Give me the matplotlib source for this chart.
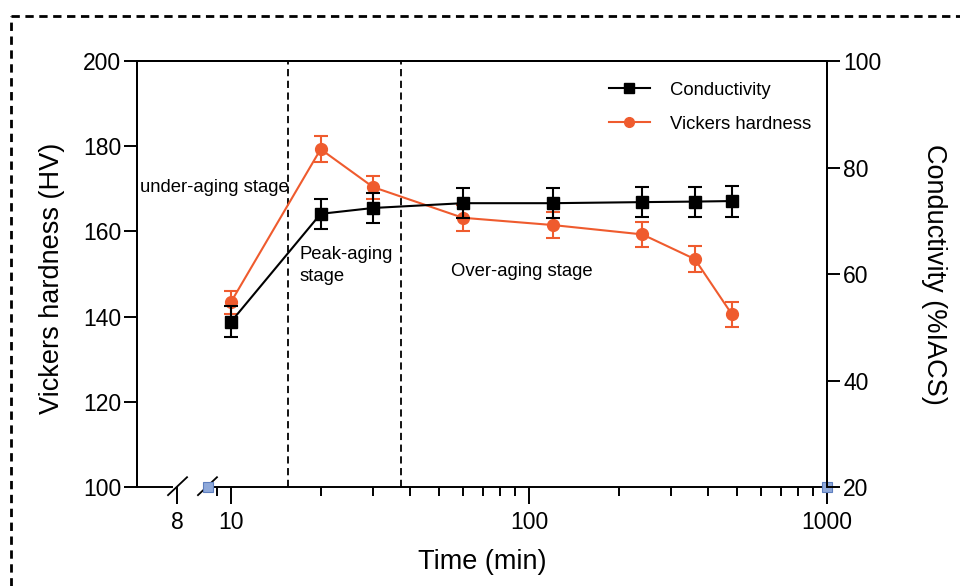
import matplotlib.pyplot as plt
import numpy as np
from matplotlib.lines import Line2D

plt.rcParams['font.family'] = ['Liberation Sans', 'DejaVu Sans']

# aging time (min)
time_min = [10, 20, 30, 60, 120, 240, 360, 480]
hardness = [143.4, 179.3, 170.4, 163.2, 161.5, 159.3, 153.5, 140.5]
hardness_err = [2.7, 3.0, 2.7, 3.0, 3.0, 3.0, 3.0, 3.0]
conductivity = [51.0, 71.3, 72.4, 73.3, 73.3, 73.5, 73.6, 73.7]
conductivity_err = [2.9, 2.8, 2.8, 2.8, 2.8, 2.8, 2.8, 2.9]

# stage boundaries (min)
stage_bounds = [15.6, 37.2]

# stray grey-blue points sitting on the x axis
stray_x = [8.4, 1000]
stray_y = [100, 100]

orange = '#EF5B2E'

fig = plt.figure(figsize=(9.6, 5.86), dpi=100)
ax = fig.add_axes([0.1427, 0.1689, 0.7188, 0.7270])
ax2 = ax.twinx()

ax.set_xscale('log')
ax.set_xlim(4.84, 1000)
ax.set_ylim(100, 200)
ax2.set_ylim(20, 100)

for xb in stage_bounds:
    ax.axvline(xb, color='black', lw=1.3, ls=(0, (4, 2.5)), zorder=1)

ax.errorbar(time_min, hardness, yerr=hardness_err, color=orange, marker='o',
            ms=8.5, lw=1.5, elinewidth=1.5, capsize=5, capthick=1.5, zorder=3)
ax2.errorbar(time_min, conductivity, yerr=conductivity_err, color='black', marker='s',
             ms=9, lw=1.5, elinewidth=1.5, capsize=5, capthick=1.5, zorder=3)
ax.plot(stray_x, stray_y, ls='none', marker='s', ms=6.5, color='#8FA9DA',
        mec='#5E7FBF', mew=0.8, clip_on=False, zorder=5)

# x ticks: "8" sits on the broken-off left stub of the axis
x_stub = 10 ** (np.log10(4.84) + 0.058 * np.log10(1000 / 4.84))
ax.set_xticks([x_stub, 10, 100, 1000])
ax.set_xticklabels(['8', '10', '100', '1000'])
ax.set_xticks([9] + list(range(20, 100, 10)) + list(range(200, 1000, 100)), minor=True)
ax.xaxis.set_minor_formatter(plt.NullFormatter())

ax.set_yticks(range(100, 201, 20))
ax2.set_yticks(range(20, 101, 20))

for a in (ax, ax2):
    a.tick_params(axis='both', which='major', labelsize=16.5, length=9.5, width=1.4,
                  direction='out', pad=2)
    a.spines['bottom'].set_visible(False)
    for s in ('left', 'right', 'top'):
        a.spines[s].set_linewidth(1.4)
ax.tick_params(axis='x', which='major', length=12, pad=5)
ax.tick_params(axis='x', which='minor', length=6.5, width=1.4)

# broken bottom axis line
ax.plot([0, 0.051], [0, 0], transform=ax.transAxes, color='black', lw=1.4, clip_on=False)
ax.plot([0.106, 1], [0, 0], transform=ax.transAxes, color='black', lw=1.4, clip_on=False)
ax.plot([0.045, 0.0725], [-0.019, 0.023], transform=ax.transAxes, color='black', lw=1.3, clip_on=False)
ax.plot([0.0884, 0.1159], [-0.019, 0.023], transform=ax.transAxes, color='black', lw=1.3, clip_on=False)

ax.set_ylabel('Vickers hardness (HV)', fontsize=19.5)
ax.yaxis.set_label_coords(-0.104, 0.49)
ax2.set_ylabel('Conductivity (%IACS)', fontsize=19.5, rotation=270)
ax2.yaxis.set_label_coords(1.1735, 0.50)
ax.set_xlabel('Time (min)', fontsize=19.5)
ax.xaxis.set_label_coords(0.501, -0.145)

ax.text(0.004, 0.704, 'under-aging stage', transform=ax.transAxes, fontsize=13.3,
        ha='left', va='center')
ax.text(0.236, 0.52, 'Peak-aging\nstage', transform=ax.transAxes, fontsize=13.3,
        ha='left', va='center', linespacing=1.32)
ax.text(0.455, 0.505, 'Over-aging stage', transform=ax.transAxes, fontsize=13.3,
        ha='left', va='center')

handles = [
    Line2D([], [], color='black', marker='s', ms=7, lw=1.5),
    Line2D([], [], color=orange, marker='o', ms=7, lw=1.5),
]
ax2.legend(handles, ['Conductivity', 'Vickers hardness'], loc='upper left',
           bbox_to_anchor=(0.66, 0.99), frameon=False, fontsize=13.3,
           handlelength=2.2, handletextpad=1.1, labelspacing=0.9)

# dashed outer frame, running off the right and bottom edges
fig.add_artist(Line2D([11 / 960, 1.0], [1 - 16 / 586, 1 - 16 / 586], transform=fig.transFigure,
                      color='black', lw=2, ls=(0, (3, 2))))
fig.add_artist(Line2D([11 / 960, 11 / 960], [0.0, 1 - 16 / 586], transform=fig.transFigure,
                      color='black', lw=2, ls=(0, (3, 2))))

fig.savefig('out.png', dpi=100)
